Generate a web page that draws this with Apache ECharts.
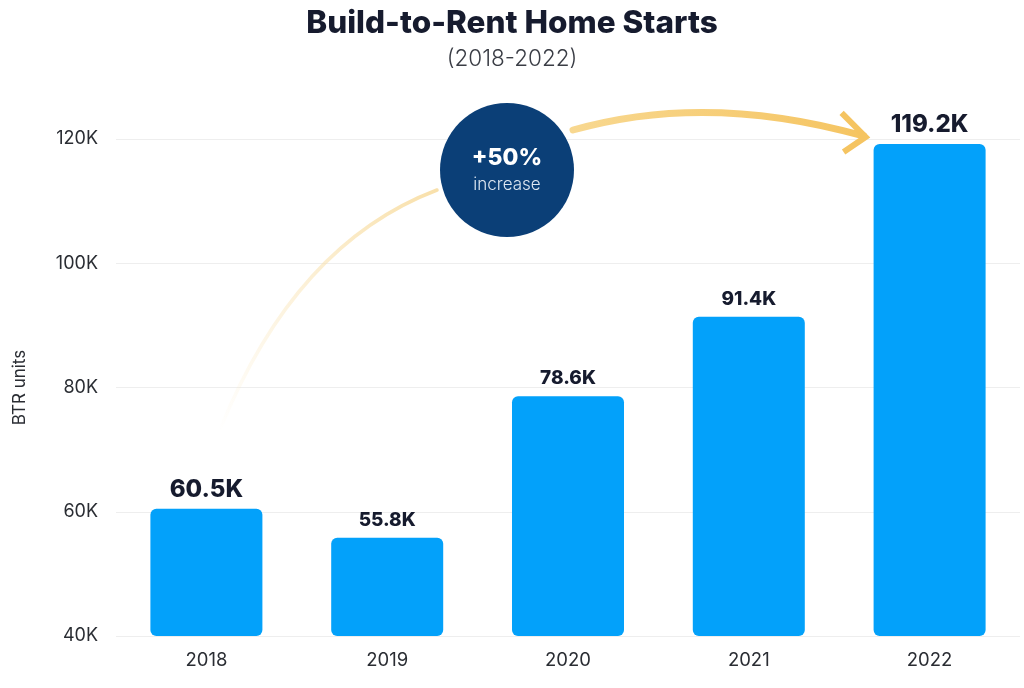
<!DOCTYPE html>
<html>
<head>
<meta charset="utf-8">
<script src="https://cdn.jsdelivr.net/npm/echarts@6/dist/echarts.min.js"></script>
<style>html,body{margin:0;padding:0;background:#fff}#c{width:1024px;height:688px}</style>
</head>
<body>
<div id="c"></div>
<script>
const categories = ['2018', '2019', '2020', '2021', '2022'];
const values = [60500, 55800, 78600, 91400, 119200];
const highlighted = [true, false, false, false, true];
const yTicks = { min: 40000, max: 120000, interval: 20000 };
const titleText = 'Build-to-Rent Home Starts';
const subtitleText = '(2018-2022)';
const yAxisName = 'BTR units';
const badgeTop = '+50%';
const badgeBottom = 'increase';

const chart = echarts.init(document.getElementById('c'), null, { renderer: 'canvas' });
const FONT = 'Inter, "Noto Sans", sans-serif';

chart.setOption({
  animation: false,
  backgroundColor: '#ffffff',
  title: {
    text: titleText,
    subtext: subtitleText,
    left: 'center',
    top: 3,
    itemGap: 8,
    textStyle: { fontFamily: FONT, fontSize: 31.5, fontWeight: 800, color: '#161b2e' },
    subtextStyle: { fontFamily: FONT, fontSize: 22.5, fontWeight: 300, color: '#3a3d45' }
  },
  grid: { left: 116, right: 4, top: 139, bottom: 52 },
  xAxis: {
    type: 'category',
    data: categories,
    axisLine: { show: false },
    axisTick: { show: false },
    axisLabel: { fontFamily: FONT, fontSize: 18.5, color: '#2a2d33', margin: 15 }
  },
  yAxis: {
    type: 'value',
    min: yTicks.min,
    max: yTicks.max,
    interval: yTicks.interval,
    name: yAxisName,
    nameLocation: 'middle',
    nameGap: 88,
    nameRotate: 90,
    nameTextStyle: { fontFamily: FONT, fontSize: 17, color: '#2a2d33' },
    axisLine: { show: false },
    axisTick: { show: false },
    splitLine: { lineStyle: { color: '#eeeeee', width: 1 } },
    axisLabel: {
      fontFamily: FONT, fontSize: 18, color: '#2a2d33', margin: 18,
      formatter: v => (v / 1000) + 'K'
    }
  },
  series: [{
    type: 'bar',
    barWidth: 112,
    data: values.map((v, i) => ({
      value: v,
      label: highlighted[i]
        ? { fontSize: 24, distance: 7 }
        : { fontSize: 19, distance: 8 }
    })),
    itemStyle: { color: '#03a1fa', borderRadius: 6 },
    label: {
      show: true,
      position: 'top',
      fontFamily: FONT,
      fontWeight: 800,
      color: '#161b2e',
      formatter: p => (p.value / 1000).toFixed(1) + 'K'
    }
  }]
});

// Annotation anchored to bars via the axes
const pFirst = chart.convertToPixel({ xAxisIndex: 0, yAxisIndex: 0 }, [categories[0], values[0]]);
const pLast = chart.convertToPixel({ xAxisIndex: 0, yAxisIndex: 0 }, [categories[4], values[4]]);
const pMid = chart.convertToPixel({ xAxisIndex: 0, yAxisIndex: 0 }, [categories[2], yTicks.max]);
const cx = pMid[0] - 61, cy = pMid[1] + 31, r = 67;
const sx = pFirst[0] + 14, sy = pFirst[1] - 80;
const ex = pLast[0] - 66, ey = pLast[1] - 8;

chart.setOption({
  graphic: [
    {
      type: 'bezierCurve', z: 10,
      shape: { x1: sx, y1: sy, cpx1: sx + 75, cpy1: sy - 185, x2: cx - 70, y2: cy + 20 },
      style: {
        fill: null, lineWidth: 3.5, lineCap: 'round',
        stroke: { type: 'linear', x: 0, y: 1, x2: 1, y2: 0, colorStops: [
          { offset: 0, color: 'rgba(250,228,180,0)' },
          { offset: 1, color: 'rgba(248,222,165,0.95)' }
        ] }
      }
    },
    {
      type: 'bezierCurve', z: 10,
      shape: { x1: cx + 66, y1: cy - 40, cpx1: cx + 200, cpy1: cy - 78, x2: ex, y2: ey },
      style: {
        fill: null, lineWidth: 7, lineCap: 'round',
        stroke: { type: 'linear', x: 0, y: 0, x2: 1, y2: 0, colorStops: [
          { offset: 0, color: '#f8d890' },
          { offset: 1, color: '#f5c461' }
        ] }
      }
    },
    {
      type: 'polyline', z: 10,
      shape: { points: [[ex - 22, ey - 23], [ex + 2, ey + 1], [ex - 20, ey + 16]] },
      style: { fill: null, stroke: '#f5c461', lineWidth: 6, lineJoin: 'miter', lineCap: 'butt' }
    },
    {
      type: 'circle', z: 11,
      shape: { cx: cx, cy: cy, r: r },
      style: { fill: '#0b3f77' }
    },
    {
      type: 'text', z: 12,
      style: { x: cx, y: cy - 12, text: badgeTop, fill: '#ffffff', font: '800 23px ' + FONT, align: 'center', verticalAlign: 'middle' }
    },
    {
      type: 'text', z: 12,
      style: { x: cx, y: cy + 15, text: badgeBottom, fill: '#dfe8f3', font: '300 17px ' + FONT, align: 'center', verticalAlign: 'middle' }
    }
  ]
});
</script>
</body>
</html>
